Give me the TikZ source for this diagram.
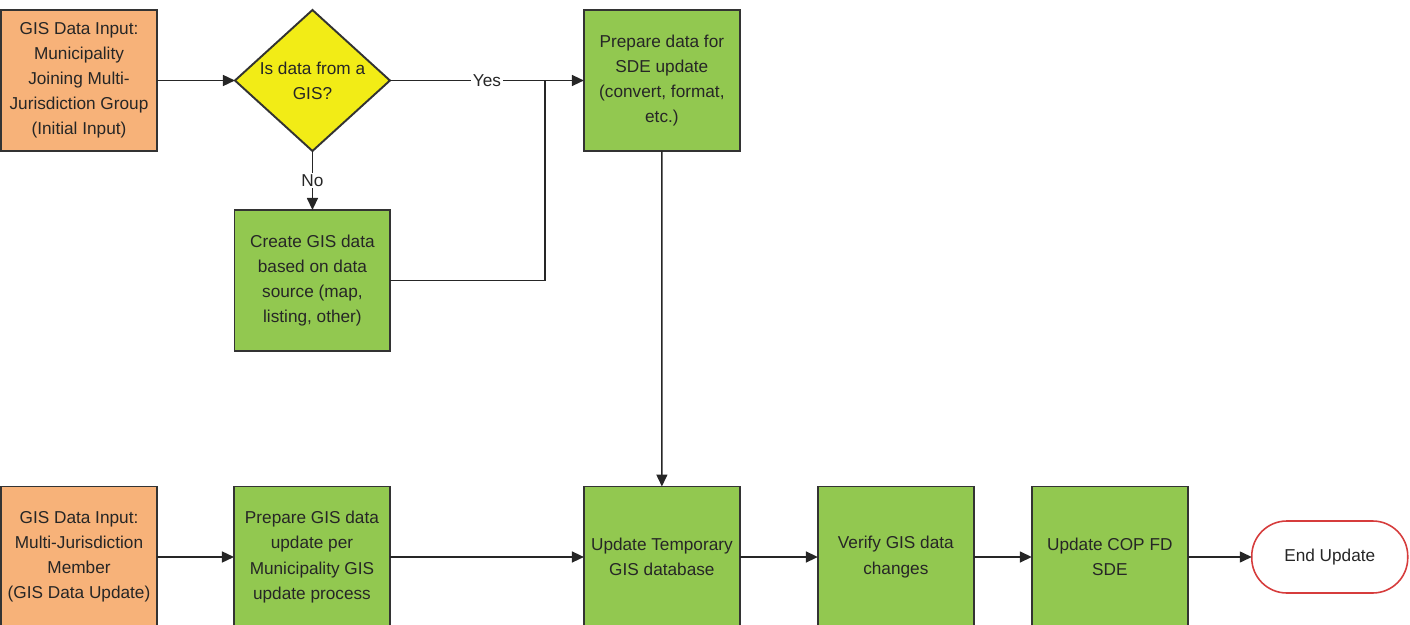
\documentclass[tikz,border=0pt]{standalone}
\usepackage{fontspec}
\setmainfont{Liberation Sans}
\usetikzlibrary{arrows.meta,positioning,shapes.geometric}

\definecolor{inputorange}{RGB}{247,178,121}
\definecolor{procgreen}{RGB}{146,200,80}
\definecolor{decyellow}{RGB}{242,236,22}
\definecolor{endred}{RGB}{214,60,60}

\begin{document}
\begin{tikzpicture}[
  x=0.02cm, y=-0.02cm,
  every node/.style={font=\fontsize{9.8}{14.3}\selectfont, text=black!85},
  inbox/.style={draw=black!80, line width=1.1pt, fill=inputorange, align=center, minimum width=3.12cm, minimum height=2.82cm, inner sep=1pt, outer sep=0pt},
  procbox/.style={inbox, fill=procgreen},
  decision/.style={diamond, draw=black!80, line width=1.1pt, fill=decyellow, align=center, aspect=1.1, minimum width=3.1cm, minimum height=2.82cm, inner sep=-2pt, outer sep=0pt},
  endbox/.style={draw=endred, line width=0.9pt, fill=white, rounded corners=0.7cm, minimum width=3.12cm, minimum height=1.44cm, align=center, outer sep=0pt},
  arr/.style={-{Triangle[length=2.4mm,width=2.2mm]}, line width=0.85pt, draw=black!85},
  conn/.style={line width=0.85pt, draw=black!85},
  lbl/.style={fill=white, inner sep=1pt}
]
\useasboundingbox (0,0) rectangle (1410,625);
\clip (0,0) rectangle (1410,625);

% upper branch
\node[inbox] (in1) at (79,80.5) {GIS Data Input:\\ Municipality\\ Joining Multi-\\ Jurisdiction Group\\ (Initial Input)};
\node[decision, right=1.56cm of in1] (gis) {Is data from a\\ GIS?};
\node[procbox, right=3.88cm of gis] (prep) {Prepare data for\\ SDE update\\ (convert, format,\\ etc.)};
\node[procbox, below=1.18cm of gis] (create) {Create GIS data\\ based on data\\ source (map,\\ listing, other)};
\coordinate (join) at (545,80.5);

% lower row
\node[inbox] (in2) at (79,557) {GIS Data Input:\\ Multi-Jurisdiction\\ Member\\ (GIS Data Update)};
\node[procbox, right=1.54cm of in2] (prepgis) {Prepare GIS data\\ update per\\ Municipality GIS\\ update process};
\node[procbox, right=3.88cm of prepgis] (tempdb) {Update Temporary\\ GIS database};
\node[procbox, right=1.56cm of tempdb] (verify) {Verify GIS data\\ changes};
\node[procbox, right=1.16cm of verify] (cop) {Update COP FD\\ SDE};
\node[endbox, right=1.28cm of cop] (endu) {End Update};

\draw[arr] (in1) -- (gis);
\draw[arr] (gis.east) -- node[lbl]{Yes} (prep.west);
\draw[arr] (gis.south) -- node[lbl]{No} (create.north);
\draw[conn] (create.east) -| (join);
\draw[arr] (prep.south) -- (tempdb.north);
\draw[arr] (in2) -- (prepgis);
\draw[arr] (prepgis) -- (tempdb);
\draw[arr] (tempdb) -- (verify);
\draw[arr] (verify) -- (cop);
\draw[arr] (cop) -- (endu);
\end{tikzpicture}
\end{document}
